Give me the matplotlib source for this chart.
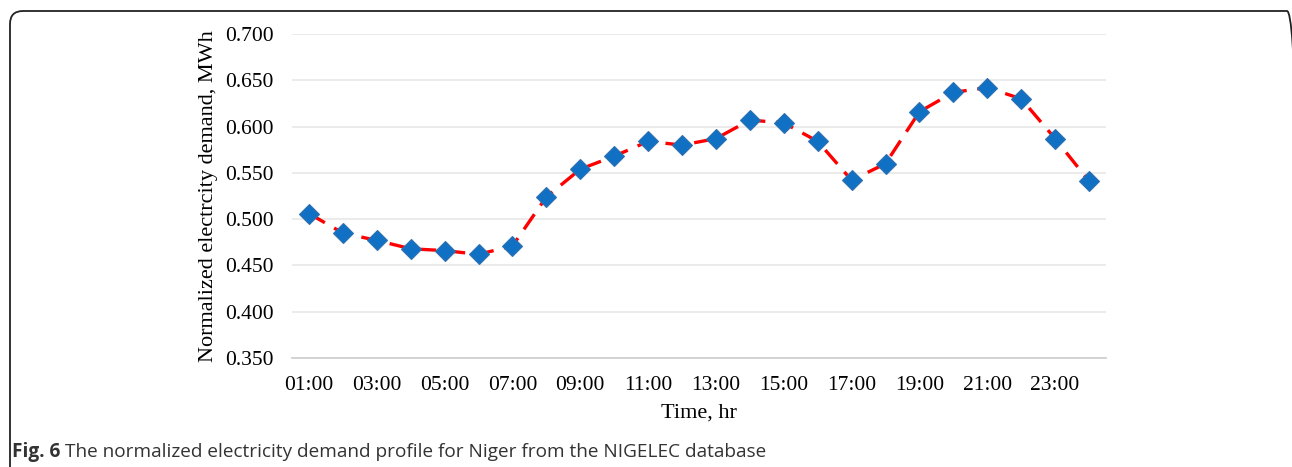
import matplotlib.pyplot as plt
from matplotlib.patches import FancyBboxPatch

hours = list(range(1, 25))
demand = [0.506, 0.485, 0.477, 0.468, 0.466, 0.462, 0.471, 0.524, 0.554, 0.568,
          0.584, 0.580, 0.587, 0.607, 0.604, 0.584, 0.542, 0.560, 0.616, 0.637,
          0.642, 0.630, 0.587, 0.541]
tick_hours = list(range(1, 25, 2))
tick_labels = ["%02d:00" % h for h in tick_hours]
y_ticks = [0.35, 0.40, 0.45, 0.50, 0.55, 0.60, 0.65, 0.70]

W, H = 1292, 467
fig = plt.figure(figsize=(W / 100, H / 100), dpi=100)
ax = fig.add_axes([292/W, 1 - 358/H, (1106-292)/W, (358-34)/H])

ax.plot(hours, demand, color='red', lw=2.4, linestyle=(0, (5.5, 3.2)),
        marker='D', markersize=10, markerfacecolor='#1070c4',
        markeredgecolor='#3070b0', markeredgewidth=0.8, zorder=3)

ax.set_xlim(0.5, 24.5)
ax.set_ylim(0.35, 0.70)
ax.set_yticks(y_ticks)
ax.set_yticklabels(["%.3f" % v for v in y_ticks])
ax.set_xticks(tick_hours)
ax.set_xticklabels(tick_labels)
ax.tick_params(axis='y', length=0, labelsize=15.5, pad=13)
ax.tick_params(axis='x', length=0, labelsize=15.5, pad=13)
for lab in ax.get_xticklabels() + ax.get_yticklabels():
    lab.set_fontfamily('Liberation Serif')
ax.grid(axis='y', color='#e8e8e8', lw=1.2)
ax.set_axisbelow(True)
for s in ['top', 'right', 'left']:
    ax.spines[s].set_visible(False)
ax.spines['bottom'].set_color('#d0d0d0')
ax.spines['bottom'].set_linewidth(1.3)

ax.set_xlabel("Time, hr", family='Liberation Serif', fontsize=16, labelpad=6)
ax.set_ylabel("Normalized electrcity demand, MWh", family='Liberation Serif',
              fontsize=16, labelpad=5)

# rounded frame round the figure, open to the bottom and right
frame = FancyBboxPatch((10/W, -0.2), 1290/W, 1.2 - 11/H,
                       boxstyle="round,pad=0,rounding_size=%f" % (13/W),
                       transform=fig.transFigure, fill=False,
                       edgecolor='#222222', lw=1.3, mutation_aspect=W/H)
fig.patches.append(frame)

cap1 = fig.text(12/W, 1 - 452/H, "Fig. 6", family='Open Sans', weight='bold',
                fontsize=13.7, color='#333333', va='center')
fig.canvas.draw()
bb = cap1.get_window_extent()
fig.text((bb.x1 + 5)/W, 1 - 452/H,
         "The normalized electricity demand profile for Niger from the NIGELEC database",
         family='Open Sans', fontsize=13.7, color='#333333', va='center')

fig.savefig("out.png", dpi=100)
